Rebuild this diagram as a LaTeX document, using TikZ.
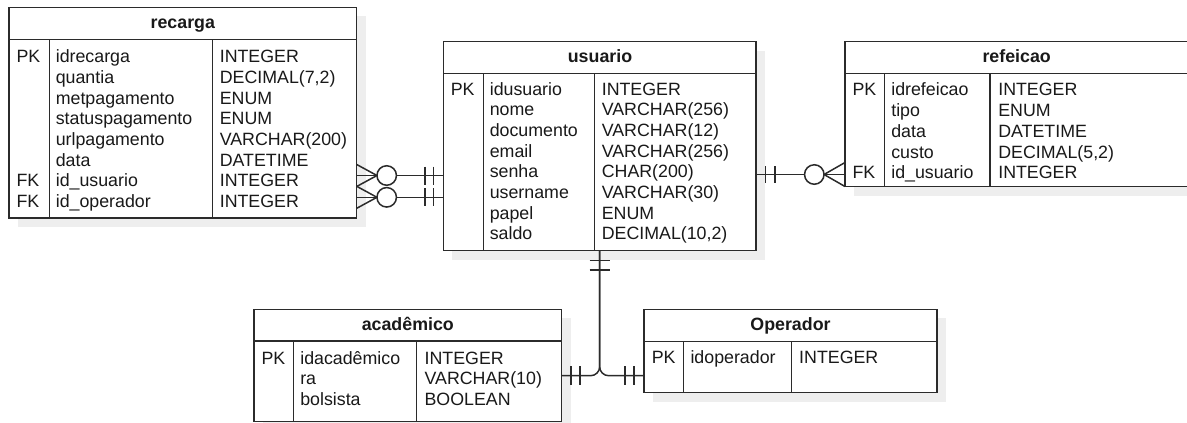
\documentclass[tikz,border=0pt]{standalone}
\usepackage{fontspec}
\setmainfont{Liberation Sans}
\usetikzlibrary{shadows,calc}

\definecolor{ink}{HTML}{2B2B2B}
\definecolor{shade}{HTML}{EEEEEE}

\tikzset{
  tbl/.style={rectangle, draw=ink, line width=1.5pt, fill=white, inner sep=0pt,
    outer sep=0pt, anchor=north west,
    drop shadow={shadow xshift=9pt, shadow yshift=-9pt, fill=shade, opacity=1}},
  rule/.style={draw=ink, line width=1.5pt},
  cell/.style={anchor=base west, inner sep=0pt, outer sep=0pt, text=black!90,
    font=\fontsize{17.8}{21}\selectfont},
  ttl/.style={anchor=base, inner sep=0pt, outer sep=0pt, text=black!90,
    font=\fontsize{17.8}{21}\selectfont\bfseries},
  link/.style={draw=ink, line width=1.5pt},
  zero/.style={circle, draw=ink, line width=1.5pt, fill=white,
    minimum size=19.5pt, inner sep=0pt, outer sep=0pt},
}

% one column of field texts: prefix, x, first baseline, row step, entries
\newcommand\erColumn[5]{%
  \foreach \t [count=\i] in {#5} \node[cell] (#1\i) at (#2,{#3+#4*(\i-1)}) {\t};}

\begin{document}
\begin{tikzpicture}[x=1pt,y=-1pt]
\useasboundingbox (0,0) rectangle (1187,423);

% ---------------- recarga ----------------
\node[tbl, minimum width=347.7pt, minimum height=210.7pt] (recarga) at (9,7.3) {};
\draw[rule] (9,39.3) -- (356.7,39.3);
\draw[rule] (49.3,39.3) -- (49.3,218);
\draw[rule] (212.3,39.3) -- (212.3,218);
\node[ttl] (recarga-t) at (182.8,28.3) {recarga};
\node[cell] (recarga-k1) at (16.5,62.7) {PK};
\node[cell] (recarga-k7) at (16.5,{62.7+20.67*6}) {FK};
\node[cell] (recarga-k8) at (16.5,{62.7+20.67*7}) {FK};
\erColumn{recarga-n}{55.8}{62.7}{20.67}{idrecarga,quantia,metpagamento,statuspagamento,urlpagamento,data,id\_usuario,id\_operador}
\erColumn{recarga-y}{219.8}{62.7}{20.67}{INTEGER,{DECIMAL(7,2)},ENUM,ENUM,VARCHAR(200),DATETIME,INTEGER,INTEGER}

% ---------------- usuario ----------------
\node[tbl, minimum width=312.7pt, minimum height=209pt] (usuario) at (443.3,41.7) {};
\draw[rule] (443.3,73.3) -- (756,73.3);
\draw[rule] (483.3,73.3) -- (483.3,250.7);
\draw[rule] (594.3,73.3) -- (594.3,250.7);
\node[ttl] (usuario-t) at (600,62.2) {usuario};
\node[cell] (usuario-k1) at (450.8,95.3) {PK};
\erColumn{usuario-n}{489.8}{95.3}{20.67}{idusuario,nome,documento,email,senha,username,papel,saldo}
\erColumn{usuario-y}{601.8}{95.3}{20.67}{INTEGER,VARCHAR(256),VARCHAR(12),VARCHAR(256),CHAR(200),VARCHAR(30),ENUM,{DECIMAL(10,2)}}

% ---------------- refeicao ----------------
\node[tbl, minimum width=343.5pt, minimum height=145pt] (refeicao) at (845,41.7) {};
\draw[rule] (845,73.3) -- (1188.5,73.3);
\draw[rule] (884.3,73.3) -- (884.3,186.7);
\draw[rule] (990,73.3) -- (990,186.7);
\node[ttl] (refeicao-t) at (1016.7,62.2) {refeicao};
\node[cell] (refeicao-k1) at (852.5,95.6) {PK};
\node[cell] (refeicao-k5) at (852.5,{95.6+20.8*4}) {FK};
\erColumn{refeicao-n}{891.3}{95.6}{20.8}{idrefeicao,tipo,data,custo,id\_usuario}
\erColumn{refeicao-y}{998.3}{95.6}{20.8}{INTEGER,ENUM,DATETIME,{DECIMAL(5,2)},INTEGER}

% ---------------- academico ----------------
\node[tbl, minimum width=307.7pt, minimum height=112.4pt] (academico) at (254,309.3) {};
\draw[rule] (254,341) -- (561.7,341);
\draw[rule] (293.3,341) -- (293.3,421.7);
\draw[rule] (416.7,341) -- (416.7,421.7);
\node[ttl] (academico-t) at (407.8,330.5) {acadêmico};
\node[cell] (academico-k1) at (261.5,364) {PK};
\erColumn{academico-n}{300.3}{364}{20.5}{idacadêmico,ra,bolsista}
\erColumn{academico-y}{424.6}{364}{20.5}{INTEGER,VARCHAR(10),BOOLEAN}

% ---------------- Operador ----------------
\node[tbl, minimum width=293pt, minimum height=83.4pt] (operador) at (644,309.3) {};
\draw[rule] (644,341.3) -- (937,341.3);
\draw[rule] (683.3,341.3) -- (683.3,392.7);
\draw[rule] (791.7,341.3) -- (791.7,392.7);
\node[ttl] (operador-t) at (790.5,330.5) {Operador};
\node[cell] (operador-k1) at (651.8,363.7) {PK};
\node[cell] (operador-n1) at (690.5,363.7) {idoperador};
\node[cell] (operador-y1) at (799.2,363.7) {INTEGER};

% ---------------- relationships ----------------
% recarga.id_usuario  >O----||  usuario
\node[zero] (oa) at (386.7,175.5) {};
\draw[link] (oa.east) -- (usuario.west |- oa);
\draw[link] (oa.west) -- (recarga.east |- oa);
\draw[link] (oa.west) -- ($(recarga.east |- oa)+(0,-11)$);
\draw[link] (oa.west) -- ($(recarga.east |- oa)+(0,11)$);
\draw[link] ($(usuario.west |- oa)+(-18.3,-9)$) -- ++(0,18);
\draw[link] ($(usuario.west |- oa)+(-10,-9)$) -- ++(0,18);

% recarga.id_operador  >O----||  usuario
\node[zero] (ob) at (386.7,197.3) {};
\draw[link] (ob.east) -- (usuario.west |- ob);
\draw[link] (ob.west) -- (recarga.east |- ob);
\draw[link] (ob.west) -- ($(recarga.east |- ob)+(0,-11)$);
\draw[link] (ob.west) -- ($(recarga.east |- ob)+(0,11)$);
\draw[link] ($(usuario.west |- ob)+(-18.3,-9)$) -- ++(0,18);
\draw[link] ($(usuario.west |- ob)+(-10,-9)$) -- ++(0,18);

% usuario  ||----O<  refeicao.id_usuario
\node[zero] (oc) at (814.3,174.5) {};
\draw[link] (usuario.east |- oc) -- (oc.west);
\draw[link] (oc.east) -- (refeicao.west |- oc);
\draw[link] (oc.east) -- ($(refeicao.west |- oc)+(0,-12)$);
\draw[link] (oc.east) -- ($(refeicao.west |- oc)+(0,12)$);
\draw[link] ($(usuario.east |- oc)+(9.5,-8.5)$) -- ++(0,17);
\draw[link] ($(usuario.east |- oc)+(19,-8.5)$) -- ++(0,17);

% usuario  ||----||  academico / Operador
\coordinate (fork) at (599.65,375.7);
\draw[link, rounded corners=9pt] (usuario.south) -- (fork) -- (fork -| academico.east);
\draw[link, rounded corners=9pt] (usuario.south) -- (fork) -- (fork -| operador.west);
\draw[link] ($(usuario.south)+(-10,10)$) -- ++(20,0);
\draw[link] ($(usuario.south)+(-10,19.5)$) -- ++(20,0);
\draw[link] ($(fork -| academico.east)+(9.3,-9.5)$) -- ++(0,19);
\draw[link] ($(fork -| academico.east)+(18.3,-9.5)$) -- ++(0,19);
\draw[link] ($(fork -| operador.west)+(-19,-9.5)$) -- ++(0,19);
\draw[link] ($(fork -| operador.west)+(-10,-9.5)$) -- ++(0,19);
\end{tikzpicture}
\end{document}
